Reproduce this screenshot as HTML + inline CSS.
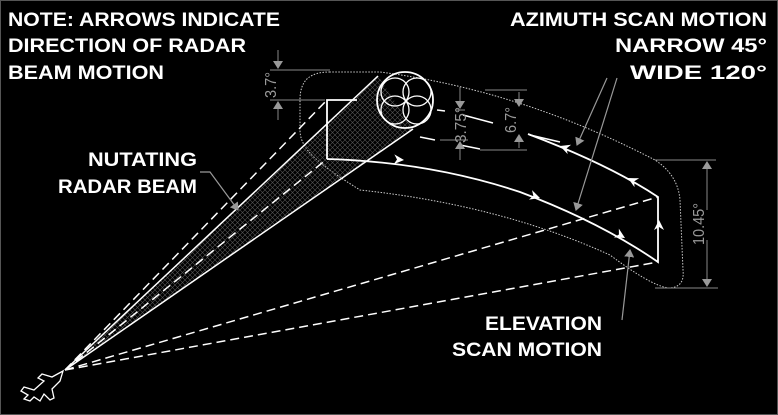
<!DOCTYPE html>
<html><head><style>
html,body{margin:0;padding:0;background:#000;}
svg{display:block}
.t{font-family:"Liberation Sans",sans-serif;font-weight:bold;fill:#fff;font-size:19px}
.d{font-family:"Liberation Sans Narrow","Liberation Sans",sans-serif;fill:#999;font-size:16px}
</style></head><body>
<svg width="778" height="415" viewBox="0 0 778 415" xmlns="http://www.w3.org/2000/svg">
<defs>
<pattern id="h" width="5" height="5" patternUnits="userSpaceOnUse">
<path d="M0 0L5 5M5 0L0 5" stroke="#555" stroke-width="0.6"/>
</pattern>
<marker id="ga" markerWidth="8" markerHeight="10" refX="7" refY="5" orient="auto" markerUnits="userSpaceOnUse"><path d="M0 0L8 5L0 10z" fill="#999"/></marker>
</defs>
<rect x="0.5" y="0.5" width="777" height="414" fill="#000" stroke="#555"/>
<path d="M330 72 C310 72 300 80 300 100 L300 130 C300 150 320 165 360 190 Q500 205 610 255 Q650 285 668 288 Q685 288 683 270 L680 200 Q678 175 655 160 Q520 90 380 72 Z" fill="none" stroke="#ccc" stroke-width="1" stroke-dasharray="1.5 1.5"/>
<path d="M65 370 L378 76 L413 129 Z" fill="url(#h)"/>
<line x1="65" y1="370" x2="378" y2="76" stroke="#fff" stroke-width="1.5"/>
<line x1="65" y1="370" x2="413" y2="129" stroke="#fff" stroke-width="1.5"/>
<g stroke="#fff" stroke-width="1.5" stroke-dasharray="9 5" fill="none">
<line x1="65" y1="370" x2="327" y2="100"/>
<line x1="65" y1="370" x2="327" y2="159"/>
<line x1="65" y1="370" x2="658" y2="197"/>
<line x1="65" y1="370" x2="658" y2="262"/>
<path d="M437 110 L445 111 M463 115 L493 123 M530 135 L560 142 M420 137 L435 140 M460 145 L480 149" stroke-dasharray="none"/>
</g>
<g stroke="#fff" stroke-width="1.8" fill="none">
<path d="M357 100 L327 100 L327 159"/>
<path d="M327 159 Q430 162 520 192 Q600 222 658 262 L658 197 Q610 165 528 134"/>
<circle cx="405" cy="100" r="28"/>
<circle cx="395" cy="92" r="14" stroke-width="1.3"/>
<circle cx="417" cy="92" r="14" stroke-width="1.3"/>
<circle cx="395" cy="110" r="14" stroke-width="1.3"/>
<circle cx="417" cy="110" r="14" stroke-width="1.3"/>
</g>
<g fill="#fff">
<path d="M404 160 l-10 -5 l3 5 l-3 5z" transform="rotate(4 404 160)"/>
<path d="M540 198 l-10 -5 l3 5 l-3 5z" transform="rotate(18 540 198)"/>
<path d="M625 238 l-10 -5 l3 5 l-3 5z" transform="rotate(30 625 238)"/>
<path d="M560 146 l10 -5 l-3 5 l3 5z" transform="rotate(20 560 146)"/>
<path d="M628 178 l10 -5 l-3 5 l3 5z" transform="rotate(28 628 178)"/>
<path d="M659 220 l-5 10 l5 -3 l5 3z"/>
</g>
<g stroke="#888" stroke-width="1" fill="#888">
<line x1="270" y1="70" x2="330" y2="70"/><line x1="270" y1="100" x2="325" y2="100"/>
<line x1="278" y1="50" x2="278" y2="68" marker-end="url(#ga)"/><line x1="278" y1="120" x2="278" y2="102" marker-end="url(#ga)"/>
<line x1="455" y1="110" x2="465" y2="110"/><line x1="440" y1="140" x2="468" y2="140"/>
<line x1="460" y1="87" x2="460" y2="108" marker-end="url(#ga)"/><line x1="460" y1="160" x2="460" y2="142" marker-end="url(#ga)"/>
<line x1="485" y1="90" x2="527" y2="90"/><line x1="480" y1="150" x2="527" y2="150"/>
<line x1="519" y1="92" x2="519" y2="106" marker-end="url(#ga)"/><line x1="519" y1="148" x2="519" y2="135" marker-end="url(#ga)"/>
<line x1="655" y1="160" x2="716" y2="160"/><line x1="655" y1="288" x2="718" y2="288"/>
<line x1="707" y1="210" x2="707" y2="162" marker-end="url(#ga)"/><line x1="707" y1="240" x2="707" y2="286" marker-end="url(#ga)"/>
</g>
<g class="d">
<text transform="translate(276 85) rotate(-90)" text-anchor="middle" textLength="26" lengthAdjust="spacingAndGlyphs">3.7°</text>
<text transform="translate(466 125) rotate(-90)" text-anchor="middle" textLength="36" lengthAdjust="spacingAndGlyphs">3.75°</text>
<text transform="translate(516 120) rotate(-90)" text-anchor="middle" textLength="26" lengthAdjust="spacingAndGlyphs">6.7°</text>
<text transform="translate(704 224) rotate(-90)" text-anchor="middle" textLength="42" lengthAdjust="spacingAndGlyphs">10.45°</text>
</g>
<g stroke="#999" stroke-width="1.2" fill="none">
<path d="M200 172 L210 172 L238 210" marker-end="url(#ga)"/>
<path d="M607 78 L577 145" marker-end="url(#ga)"/>
<path d="M617 78 L576 210" marker-end="url(#ga)"/>
<path d="M622 320 L630 250" marker-end="url(#ga)"/>
</g>
<path d="M63 371 L52 377 L42 374 L38 378 L44 381 L34 390 L24 387 L21 391 L28 395 L24 399 L30 401 L34 397 L40 401 L44 394 L50 400 L54 398 L52 389 L60 381 Z" fill="none" stroke="#fff" stroke-width="1.3"/>
<g class="t">
<text x="8" y="26" textLength="272" lengthAdjust="spacingAndGlyphs">NOTE: ARROWS INDICATE</text>
<text x="8" y="52" textLength="238" lengthAdjust="spacingAndGlyphs">DIRECTION OF RADAR</text>
<text x="8" y="79" textLength="156" lengthAdjust="spacingAndGlyphs">BEAM MOTION</text>
<text x="88" y="166" textLength="109" lengthAdjust="spacingAndGlyphs">NUTATING</text>
<text x="58" y="193" textLength="139" lengthAdjust="spacingAndGlyphs">RADAR BEAM</text>
<text x="510" y="26" textLength="257" lengthAdjust="spacingAndGlyphs">AZIMUTH SCAN MOTION</text>
<text x="615" y="52" textLength="152" lengthAdjust="spacingAndGlyphs">NARROW 45°</text>
<text x="630" y="79" textLength="137" lengthAdjust="spacingAndGlyphs">WIDE 120°</text>
<text x="485" y="330" textLength="117" lengthAdjust="spacingAndGlyphs">ELEVATION</text>
<text x="452" y="356" textLength="150" lengthAdjust="spacingAndGlyphs">SCAN MOTION</text>
</g>
</svg>
</body></html>
